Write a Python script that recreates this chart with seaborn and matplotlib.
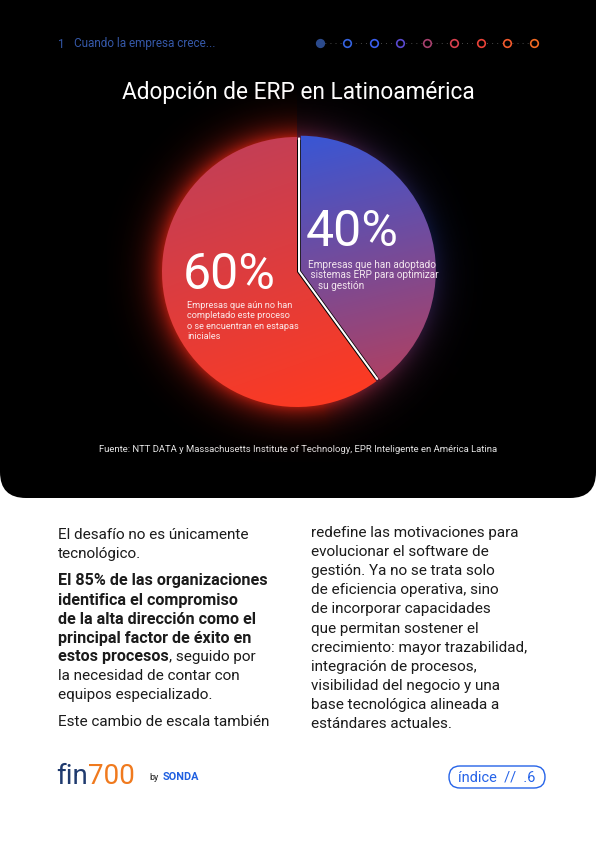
import numpy as np
import matplotlib
matplotlib.use("Agg")
import matplotlib.pyplot as plt
import seaborn as sns
from matplotlib.patches import FancyBboxPatch
from matplotlib.colors import to_rgb

sns.set_theme(style="white")
plt.rcParams['font.family'] = ['Roboto', 'DejaVu Sans']

# --- data ---
shares = [40, 60]
share_labels = ["40%", "60%"]
share_notes = [
    ["Empresas que han adoptado", " sistemas ERP para optimizar", "    su gestión"],
    ["Empresas que aún no han", "completado este proceso", "o se encuentran en estapas", "iniciales"],
]
grad_top = ["#3557d8", "#c23f57"]
grad_bottom = ["#b3405e", "#ff3a20"]
glow_colors = ["#3048c8", "#ff2a18"]

title = "Adopción de ERP en Latinoamérica"
section = "Cuando la empresa crece..."
source = "Fuente: NTT DATA y Massachusetts Institute of Technology, EPR Inteligente en América Latina"
nav_colors = ["#2b4a8c", "#3563e0", "#3a5ff0", "#5a4ad0", "#a8406e", "#d8404e",
              "#ec4238", "#f45a2c", "#f26a22"]

left_col = [
    ("El desafío no es únicamente", None),
    ("tecnológico.", None),
    ("El 85% de las organizaciones", "bold"),
    ("identifica el compromiso", "bold"),
    ("de la alta dirección como el", "bold"),
    ("principal factor de éxito en", "bold"),
    ("estos procesos", "bold", ", seguido por"),
    ("la necesidad de contar con", None),
    ("equipos especializado.", None),
    ("Este cambio de escala también", None),
]
right_col = [
    "redefine las motivaciones para",
    "evolucionar el software de",
    "gestión. Ya no se trata solo",
    "de eficiencia operativa, sino",
    "de incorporar capacidades",
    "que permitan sostener el",
    "crecimiento: mayor trazabilidad,",
    "integración de procesos,",
    "visibilidad del negocio y una",
    "base tecnológica alineada a",
    "estándares actuales.",
]

W, H = 596, 842
fig = plt.figure(figsize=(W / 100, H / 100), dpi=100)
fig.patch.set_facecolor("white")

bg = fig.add_axes([0, 0, 1, 1])
bg.set_xlim(0, W)
bg.set_ylim(H, 0)
bg.axis("off")

# black panel with rounded bottom corners
bg.add_patch(FancyBboxPatch((0, -40), W, 538, boxstyle="round,pad=0,rounding_size=26",
                            fc="black", ec="none", zorder=0))

# header
bg.text(58, 44, "1", color="#3558a8", fontsize=8.5, va="center")
bg.text(74, 44, section, color="#3558a8", fontsize=8.5, va="center")
nav_x = np.linspace(320, 534, len(nav_colors))
bg.plot(nav_x, [43] * len(nav_x), color="#666666", lw=0.7, ls=(0, (0.7, 4.5)), zorder=1)
for i, (x, c) in enumerate(zip(nav_x, nav_colors)):
    bg.scatter([x], [43], s=30, facecolor=c if i == 0 else "black",
               edgecolor=c, linewidth=1.2, zorder=2)

bg.text(298, 93, title, color="white", fontsize=16.3, ha="center", va="center")

# --- pie ---
cx, cy, R = 297, 272, 135
half = 190
pax = fig.add_axes([(cx - half) / W, (H - cy - half) / H, 2 * half / W, 2 * half / H])
lim = half / R
pax.patch.set_alpha(0)

n = 500
g = np.linspace(-lim, lim, n)
X, Y = np.meshgrid(g, g)
r = np.hypot(X, Y)
theta = np.degrees(np.arctan2(X, Y)) % 360
split = 360 * shares[0] / sum(shares)
wb = np.clip(1 - np.abs(theta - split / 2) / (split / 2 + 25), 0, 1) ** 0.7
col = np.array(to_rgb(glow_colors[1])) * (1 - wb[..., None]) + np.array(to_rgb(glow_colors[0])) * wb[..., None]
alpha = np.where(r > 0.98, np.exp(-np.clip(r - 0.98, 0, None) / 0.1), 0) * (0.75 - 0.35 * wb)
pax.imshow(np.dstack([col, alpha]), extent=(-lim, lim, -lim, lim), origin="lower", zorder=0)

wedges, _ = pax.pie(shares, startangle=90, counterclock=False, radius=1,
                    explode=[0.03, 0], wedgeprops=dict(linewidth=0))

gdirs = [(0.25, -1.0), (0.35, -1.0)]
for w, top, bot, (dx, dy) in zip(wedges, grad_top, grad_bottom, gdirs):
    t = (X * dx + Y * dy)
    t = (t - t.min()) / (t.max() - t.min())
    t = np.clip((t - 0.2) / 0.6, 0, 1)[..., None]
    img = np.array(to_rgb(top)) * (1 - t) + np.array(to_rgb(bot)) * t
    im = pax.imshow(img, extent=(-lim, lim, -lim, lim), origin="lower", zorder=2)
    im.set_clip_path(w)
    w.set_facecolor("none")

# white split line along the boundary
a = np.radians(split)
off = 0.016
sx, sy = off * np.sin(np.radians(split / 2)), off * np.cos(np.radians(split / 2))
pax.plot([sx, sx, 0.985 * np.sin(a) + sx], [0.985 + sy, sy, 0.985 * np.cos(a) + sy],
         color="white", lw=1.5, solid_joinstyle="miter", zorder=3)

pax.set_xlim(-lim, lim)
pax.set_ylim(-lim, lim)
pax.axis("off")

# slice labels (drawn with the pie axes, placed in page pixels)
tr = bg.transData
pax.text(306, 232, share_labels[0], transform=tr, color="white", fontsize=36,
         va="center", zorder=5)
for i, line in enumerate(share_notes[0]):
    pax.text(308, 265 + i * 10.3, line, transform=tr, color="#f3e6ee", fontsize=7.2,
             va="center", zorder=5)
pax.text(183, 275, share_labels[1], transform=tr, color="white", fontsize=36,
         va="center", zorder=5)
for i, line in enumerate(share_notes[1]):
    pax.text(187, 305 + i * 10.6, line, transform=tr, color="#fbe8ea", fontsize=6.6,
             va="center", zorder=5)

bg.text(298, 450, source, color="#e4e4e4", fontsize=6.8, ha="center", va="center")

# --- body text ---
body_c = "#1b1b1b"
left_y = [535, 554, 581, 600, 619, 638, 657, 676, 695, 722]
for y, item in zip(left_y, left_col):
    bold = item[1] is not None
    t = bg.text(58, y, item[0], color=body_c, fontsize=11.6 if bold else 11, va="center",
                fontweight="bold" if bold else "normal")
    if len(item) > 2:
        bg.annotate(item[2], xy=(1, 0), xycoords=t, va="bottom", color=body_c, fontsize=11)
for i, line in enumerate(right_col):
    bg.text(311, 533 + i * 19.1, line, color=body_c, fontsize=11, va="center")

# --- footer ---
logo = bg.text(56, 777, "fin", color="#1f3a6e", fontsize=20, va="center")
bg.annotate("700", xy=(1, 0), xycoords=logo, va="bottom", color="#f07a1e", fontsize=20)
bg.text(149, 778, "by", color="#222222", fontsize=6.5, va="center")
bg.text(163, 777, "SONDA", color="#1f5fe0", fontsize=7.8, fontweight="bold", va="center")
bg.add_patch(FancyBboxPatch((449, 766), 96, 22, boxstyle="round,pad=0,rounding_size=11",
                            fc="none", ec="#2563e8", lw=1.0))
bg.text(497, 777.5, "índice  //  .6", color="#2563e8", fontsize=10.5, ha="center", va="center")

fig.savefig("out.png", dpi=100, facecolor="white")
